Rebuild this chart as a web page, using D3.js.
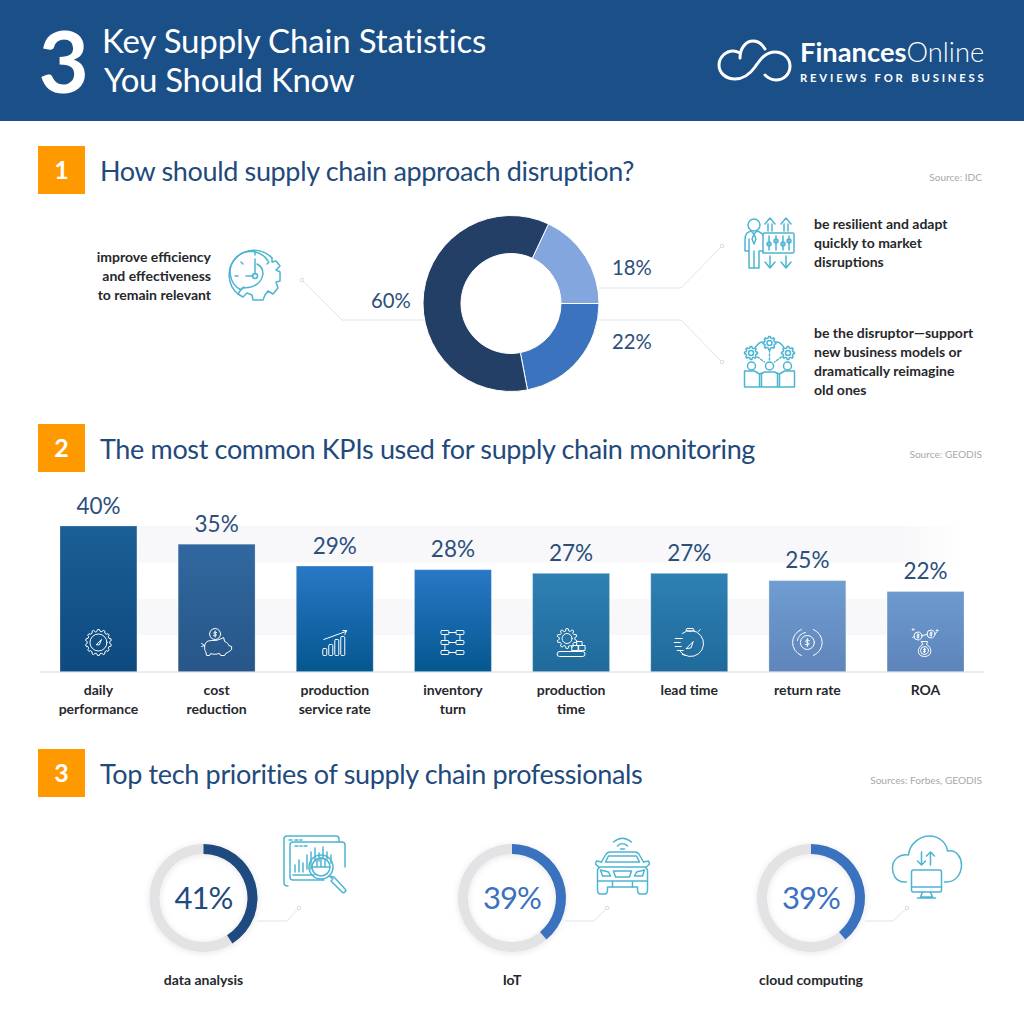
<!DOCTYPE html>
<html><head><meta charset="utf-8">
<script src="https://cdn.jsdelivr.net/npm/d3@7"></script>
<style>html,body{margin:0;padding:0;background:#fff}svg{display:block}text{font-family:Lato,"Open Sans",sans-serif}</style>
</head><body><div id="c"></div>
<script>
// ---- data ----
const titleLines = ["Key Supply Chain Statistics", "You Should Know"];
const sectionTitles = ["How should supply chain approach disruption?", "The most common KPIs used for supply chain monitoring", "Top tech priorities of supply chain professionals"];
const sectionSources = ["Source: IDC", "Source: GEODIS", "Sources: Forbes, GEODIS"];
const donutValues = [18, 22, 60];
const barCategories = ["daily|performance", "cost|reduction", "production|service rate", "inventory|turn", "production|time", "lead time", "return rate", "ROA"];
const barValues = [40, 35, 29, 28, 27, 27, 25, 22];
const gaugeNames = ["data analysis", "IoT", "cloud computing"];
const gaugeValues = [41, 39, 39];

// ---- styling ----
const NAVY = "#1b4f87", INK = "#1f4a7c", ICON = "#4db4d2", LEAD = "#e2e3e6";
const donutColors = ["#84a6df", "#3b73bf", "#233f66"];
const barStops = [["#1a5f95","#0e4a80"],["#30689f","#285688"],["#2878c6","#05578f"],["#2878c6","#05578f"],["#2f80b3","#1f6a9b"],["#2f80b3","#1f6a9b"],["#709dd2","#5f85ba"],["#6d9ad0","#5d84ba"]];
const gaugeColors = ["#1f4a80", "#3a72c0", "#3a72c0"];

const svg = d3.select("#c").append("svg").attr("width",1024).attr("height",1024).attr("viewBox","0 0 1024 1024");
const defs = svg.append("defs");
const f = defs.append("filter").attr("id","soft").attr("x","-30%").attr("y","-30%").attr("width","160%").attr("height","160%");
f.append("feDropShadow").attr("dx",0).attr("dy",1).attr("stdDeviation",3).attr("flood-color","#000").attr("flood-opacity",0.10);
svg.append("rect").attr("width",1024).attr("height",1024).attr("fill","#fff");

function txt(g,x,y,s,o={}){return g.append("text").attr("x",x).attr("y",y).attr("text-anchor",o.a||"start")
  .attr("font-size",o.s||14).attr("font-weight",o.w||400).attr("fill",o.c||"#222").attr("letter-spacing",o.ls||null).text(s);}

// ---- header ----
svg.append("rect").attr("width",1024).attr("height",121).attr("fill",NAVY);
txt(svg,38.5,93,"3",{s:87,w:700,c:"#fff"});
txt(svg,102,53,titleLines[0],{s:33,c:"#fff",ls:-0.15});
txt(svg,104,92,titleLines[1],{s:33,c:"#fff",ls:-0.32});
const lg = svg.append("g").attr("fill","none").attr("stroke","#fff").attr("stroke-width",3).attr("stroke-linecap","round");
lg.append("path").attr("d","M765 75 C769 79 773 80 776 80 C784 80 790 74 790 66 C790 58 783 52 775 52 C765 52 760 60 755 67 C750 74 744 79 735 79 C726 79 719 73 719 65 C719 57 726 51 733 51 C736 51 738 52 740 53 M740 58 C740 48 746 41 753 41 C758 41 762 44 765 49");
const lt = txt(svg,800,62,"Finances",{s:27.3,w:700,c:"#fff"});
lt.append("tspan").attr("font-weight",300).text("Online");
txt(svg,800,82,"REVIEWS FOR BUSINESS",{s:11.3,w:700,c:"#fff",ls:2.8});

// ---- section heads ----
[146,424,749].forEach((y,i)=>{
  svg.append("rect").attr("x",38).attr("y",y).attr("width",47).attr("height",48).attr("fill","#ff9900");
  txt(svg,61.5,y+33,String(i+1),{s:25,w:700,c:"#fff",a:"middle"});
  txt(svg,100,y+35,sectionTitles[i],{s:27,c:INK,ls:-0.35});
  txt(svg,982,y+(i==1?34:35),sectionSources[i],{s:10.1,c:"#a8a8a8",a:"end"});
});

// ---- icon helpers ----
function icon(cx,cy,color,sw=1.5){return svg.append("g").attr("transform",`translate(${cx},${cy})`).attr("fill","none").attr("stroke",color).attr("stroke-width",sw).attr("stroke-linecap","round").attr("stroke-linejoin","round");}
const P=(g,d)=>g.append("path").attr("d",d);
const C=(g,x,y,r)=>g.append("circle").attr("cx",x).attr("cy",y).attr("r",r);
const R=(g,x,y,w,h,r=0)=>g.append("rect").attr("x",x).attr("y",y).attr("width",w).attr("height",h).attr("rx",r);
function gear(g,x,y,r,n=8,t=.22){const a=[];for(let i=0;i<n;i++){const s=2*Math.PI/n;
  a.push([i*s-s*.32,r*(1-t)],[i*s-s*.16,r],[i*s+s*.16,r],[i*s+s*.32,r*(1-t)]);}
  return g.append("path").attr("transform",`translate(${x},${y})`).attr("d",d3.lineRadial()(a)+"Z");}

// ---- donut ----
const donut = svg.append("g").attr("transform","translate(511,303.5)");
const pie = d3.pie().sort(null).startAngle(25.2*Math.PI/180).endAngle(385.2*Math.PI/180);
donut.selectAll("path").data(pie(donutValues)).join("path")
  .attr("d",d3.arc().innerRadius(50).outerRadius(88)).attr("fill",(d,i)=>donutColors[i]).attr("stroke","#fff").attr("stroke-width",1);
const leads=[[[424,320],[342,320],[302,280]],[[599,288],[681,288],[722,246]],[[599,320],[681,320],[722,362]],
 [[257,921],[287,921],[299,908]],[[565,921],[594,921],[607,908]],[[865,921],[893,921],[907,908]]];
leads.forEach(p=>{svg.append("path").attr("d",d3.line()(p)).attr("fill","none").attr("stroke",LEAD).attr("stroke-width",1);
  const e=p[2];svg.append("circle").attr("cx",e[0]).attr("cy",e[1]).attr("r",1.8).attr("fill","#fff").attr("stroke","#cfd0d3").attr("stroke-width",.8);});
[[371,308,2],[612,275,0],[612,349,1]].forEach(([x,y,i])=>txt(svg,x,y,donutValues[i]+"%",{s:20.3,c:"#2c4f7c"}));

[["improve efficiency",262],["and effectiveness",281],["to remain relevant",300]].forEach(([s,y])=>txt(svg,211,y,s,{s:14,w:700,a:"end",c:"#26282c"}));
[["be resilient and adapt",229],["quickly to market",248],["disruptions",267],["be the disruptor—support",338],["new business models or",357],["dramatically reimagine",376],["old ones",395]]
 .forEach(([s,y])=>txt(svg,814,y,s,{s:14,w:700,c:"#26282c"}));

// clock-gear icon
{const g=icon(255,276,ICON);
 P(g,"M17 -18 A24.8 24.8 0 1 0 -17 18");P(g,"M13 -15 A20.5 20.5 0 1 0 -14 14");
 P(g,"M17 -18 L17 -14 L21 -15 L25 -10 L21 -6 L25 -4 L25 5 L21 6 L23 12 L18 18 L13 15 L10 19 L8 24 L-2 24 L-3 19 L-8 17 L-12 21 L-17 18 L-13 12 C-4 12 6 10 8 -2 C8 -6 6 -10 2 -12");
 C(g,0,0,2.5);P(g,"M0 -2 L0 -17 M-2 0 L-9 0");P(g,"M0 -24 L0 -21 M-20 0 L-17 0 M-14 -14 L-12 -12 M-13 13 L-11 11 M14 -14 L12 -12");}
// person with sliders
{const g=icon(770,243,ICON);
 C(g,-16,-18,6);P(g,"M-25 -3 C-25 -10 -22 -11 -19 -12 L-16 -9 L-13 -12 C-10 -11 -8 -10 -7 -8 M-25 -3 L-25 8 L-21 8 L-21 25 L-16 25 L-16 8 M-16 25 L-11 25 L-11 8 L-7 8 L-7 10 M-21 8 L-21 -4 M-16 -9 L-18 -4 L-16 1 L-14 -4 Z");
 R(g,-7,-10,31,20,1.5);[-1,6,13,19].forEach((x,i)=>{P(g,`M${x} -7 L${x} 7`);C(g,x,i%2?-2:1,2);});
 [0,16].forEach(x=>{P(g,`M${x-5} -19 L${x} -25 L${x+5} -19 M${x-2} -19 L${x-2} -12 M${x+2} -19 L${x+2} -12`);P(g,`M${x-5} 19 L${x} 25 L${x+5} 19 M${x} 13 L${x} 24`);});}
// people with gears
{const g=icon(769.5,362,ICON);
 [[-18.5,-9],[0,-19],[18.5,-9]].forEach(([x,y])=>{gear(g,x,y,6.5);C(g,x,y,2.5);});
 P(g,"M-14 -15 C-11 -19 -8 -20 -7 -20 M7 -20 C9 -20 12 -18 14 -15");P(g,"M-12 -5 L-5 0 M0 -12 L0 -1 M12 -5 L5 0").attr("stroke-dasharray","2 2");
 [-18,0,18].forEach(x=>C(g,x,4,4));
 P(g,"M-25 9 L-25 25 L-10 25 L-10 12 M-25 9 L-15 9 L-10 12 L-5 10 M-8 25 L-8 12 L-5 10 L5 10 L8 12 L8 25 M-10 25 L10 25 M10 25 L10 12 L15 9 L25 9 L25 25 L10 25 M5 10 L10 12");}

// ---- bar chart ----
const x = d3.scaleBand().domain(barCategories).range([60,964]).paddingInner(0.349).paddingOuter(0);
const y = d3.scaleLinear().domain([0,40]).range([671.6,526]);
const bandFade = defs.append("linearGradient").attr("id","band");
bandFade.append("stop").attr("offset",0).attr("stop-color","#f8f8fa");
bandFade.append("stop").attr("offset",.93).attr("stop-color","#f8f8fa");
bandFade.append("stop").attr("offset",1).attr("stop-color","#fff");
[[40,30],[20,10]].forEach(([a,b])=>svg.append("rect").attr("x",60).attr("width",905).attr("y",y(a)).attr("height",y(b)-y(a)).attr("fill","url(#band)"));
barStops.forEach((s,i)=>{const lg=defs.append("linearGradient").attr("id","b"+i).attr("x1",0).attr("x2",0).attr("y1",0).attr("y2",1);
  lg.append("stop").attr("offset",0).attr("stop-color",s[0]);lg.append("stop").attr("offset",1).attr("stop-color",s[1]);});
const ax = svg.append("g").attr("transform",`translate(0,${y(0)})`).call(d3.axisBottom(x).tickSize(0).tickFormat(""));
ax.select(".domain").attr("d","M40,0.5H984").attr("stroke","#e6e7ea").attr("stroke-width",1.5);
svg.selectAll(".bar").data(barValues).join("rect").attr("class","bar")
  .attr("x",(d,i)=>x(barCategories[i])).attr("width",x.bandwidth()).attr("y",d=>y(d)).attr("height",d=>y(0)-y(d))
  .attr("fill",(d,i)=>`url(#b${i})`).attr("stroke","#fff").attr("stroke-opacity",.25).attr("stroke-width",1);
barValues.forEach((v,i)=>{const cx=x(barCategories[i])+x.bandwidth()/2;
  txt(svg,cx,y(v)-12.3,v+"%",{s:22.5,a:"middle",c:"#2c4f7c"});
  barCategories[i].split("|").forEach((l,j)=>txt(svg,cx,695+j*19,l,{s:14,w:700,a:"middle",c:"#26282c"}));});

const bi = i=>icon(x(barCategories[i])+x.bandwidth()/2,642.5,"#fff",1);
const dollar=(g,cx,cy,k=1)=>P(g,`M${cx} ${cy-3*k} L${cx} ${cy+3*k} M${cx+1.5*k} ${cy-1.5*k} C${cx-2*k} ${cy-3*k} ${cx-2*k} ${cy} ${cx} ${cy} C${cx+2*k} ${cy} ${cx+2*k} ${cy+3*k} ${cx-1.5*k} ${cy+1.5*k}`);
{const g=bi(0);gear(g,0,0,13,14,.13);C(g,0,0,8.5);P(g,"M-2 2 L3 -3 L1 2 Z");}
{const g=bi(1);C(g,-1.5,-8.5,5.5);dollar(g,-1.5,-8.5);P(g,"M-12 4 C-12 -3 -5 -2 -1 -2 C3 -3 5 -4 7 -5 L8 -1 C11 0 12 2 12 3 L15 4 L15 7 C13 9 11 10 9 11 L8 13 L4 13 L3 11 C-1 12 -4 12 -6 11 L-7 13 L-10 13 L-11 9 C-12 8 -12 6 -12 4 M-12 3 L-15 1 M-15 4 L-12 3");}
{const g=bi(2);[[-12,7],[-6,11],[0,16],[6,19]].forEach(([a,h])=>R(g,a,13-h,4,h,1));P(g,"M-11 -3 L11 -11 M8 -12 L12 -12 L10 -8");}
{const g=bi(3);[-10,-0,10].forEach(yy=>{R(g,-12,yy-2,8,4,1);R(g,3,yy-2,8,4,1);P(g,`M-4 ${yy} L3 ${yy}`);});P(g,"M-8 -8 L-8 -2 M-8 2 L-8 8 M7 -8 L7 -2");}
{const g=bi(4);gear(g,-4,-4,10,10,.22);C(g,-4,-4,5);R(g,-14,9,28,5,2.5);R(g,1,3,6,5);R(g,6,-1,5,4);R(g,8,3,6,5);}
{const g=bi(5);P(g,"M-7 -9 A13 13 0 1 1 -9 9 M-7 12 L-3 13");P(g,"M-2 -14 L4 -14 L5 -12 L1 -11 L-3 -12 Z M9 -11 L11 -13");P(g,"M-3 6 L4 -1 L2 5 Z");P(g,"M-14 -4 L-7 -4 M-15 0 L-9 0 M-14 4 L-8 4 M-12 8 L-6 8");}
{const g=bi(6);C(g,0,0,7);dollar(g,0,0,1.3);P(g,"M-6 -13 A14 14 0 0 0 -6 13 M6 13 A14 14 0 0 0 6 -13 M-2 -10 A10 10 0 0 0 -10 -2");}
{const g=bi(7);C(g,-7.5,-6.5,4);C(g,5.5,-8.5,4);dollar(g,-7.5,-6.5,.8);dollar(g,5.5,-8.5,.8);P(g,"M-13 -5 L-11.5 -6 M-3.5 -7 L1.5 -8 M9.5 -9 L11 -10");C(g,-12.5,-13,.8);C(g,11.5,-12,.8);
 P(g,"M-4 -1 L2 -1 L1 2 C7 5 7 14 -1 14 C-9 14 -9 5 -3 2 Z");C(g,-1,8,4);dollar(g,-1,8,.8);}

// ---- gauges ----
const gaugeX=[203.5,512,811];
gaugeValues.forEach((v,i)=>{const g=svg.append("g").attr("transform",`translate(${gaugeX[i]},898)`);
  const arc=d3.arc().innerRadius(44).outerRadius(54);
  g.append("path").attr("d",arc({startAngle:0,endAngle:2*Math.PI})).attr("fill","#e3e3e5").attr("filter","url(#soft)");
  g.append("path").attr("d",arc({startAngle:0,endAngle:v/100*2*Math.PI})).attr("fill",gaugeColors[i]);
  txt(g,0,11,v+"%",{s:31,a:"middle",c:gaugeColors[i],ls:-0.9});
  txt(g,0,87,gaugeNames[i],{s:14,w:700,a:"middle",c:"#26282c"});});

// analysis icon
{const g=icon(314,867,ICON);
 P(g,"M-26 19 C-29 19 -30 18 -30 16 L-30 -28 C-30 -30 -29 -31 -27 -31 L22 -31 C24 -31 25 -30 25 -28 L25 -25");
 P(g,"M10 13 L-21 13 C-23 13 -24 12 -24 10 L-24 -22 C-24 -24 -23 -25 -21 -25 L28 -25 C30 -25 31 -24 31 -22 L31 0");
 P(g,"M-25 -27 L-22 -27 M-19 -27 L-16 -27 M-14 -27 L-12 -27 M-19 -21 L-16 -21 M-14 -21 L-12 -21 M-10 -21 L-7 -21");
 [[-19,-2,5],[-15,-7,5],[-11,-4,5],[-7,-12,2],[-3,-15,2],[1,-19,-6],[5,-14,-6],[9,-20,-8],[13,-15,-8],[17,-12,-4]].forEach(([a,t,b])=>P(g,`M${a} ${t} L${a} ${b}`));
 P(g,"M-21 8 L0 8");C(g,7,0,12);C(g,7,0,9);P(g,"M-2 0 L16 0 M3 -8 L3 0 M7 -9 L7 0 M11 -8 L11 0");
 P(g,"M15 9 L19 12 L17 14 L28 25 C30 27 33 24 31 22 L20 10 Z");}
// car icon
{const g=icon(622.5,866,ICON);
 P(g,"M-9 -24 C-3 -29 3 -29 9 -24 M-5 -20 C-2 -23 2 -23 5 -20 M-2 -17 L2 -17");
 P(g,"M-21 -4 L-17 -11 C-16 -13 -15 -14 -12 -14 L12 -14 C15 -14 16 -13 17 -11 L21 -4 M-17 -4 L-14 -10 L14 -10 L17 -4 Z");
 P(g,"M-21 -4 L-26 -5 L-27 -2 L-24 1 M21 -4 L26 -5 L27 -2 L24 1");
 P(g,"M-23 1 L-25 4 L-25 24 C-25 26 -24 28 -22 28 L-18 28 C-16 28 -15 26 -15 24 L-15 21 L15 21 L15 24 C15 26 16 28 18 28 L22 28 C24 28 25 26 25 24 L25 4 L23 1 Z");
 P(g,"M-22 4 L-14 6 L-12 10 L-20 10 Z M22 4 L14 6 L12 10 L20 10 Z M-9 5 L9 5 L7 11 L-7 11 Z M-24 15 L24 15 M-10 15 L-10 21 M10 15 L10 21");}
// cloud icon
{const g=icon(926.5,867,ICON);
 P(g,"M-20 15 L-22 15 C-31 15 -34 7 -34 1 C-34 -8 -27 -13 -18 -12 C-17 -23 -7 -31 3 -31 C13 -31 20 -24 21 -16 C31 -18 35 -8 35 -2 C35 7 29 15 20 15 L18 15");
 P(g,"M-5 -15 L-5 -2 M-9 -6 L-5 -2 L-1 -6 M4 -2 L4 -15 M0 -11 L4 -15 L8 -11");
 R(g,-15,3,30,22,2);P(g,"M-15 20 L15 20 M-4 25 L-6 30 L6 30 L4 25 M-9 31 L9 31");}
</script></body></html>
